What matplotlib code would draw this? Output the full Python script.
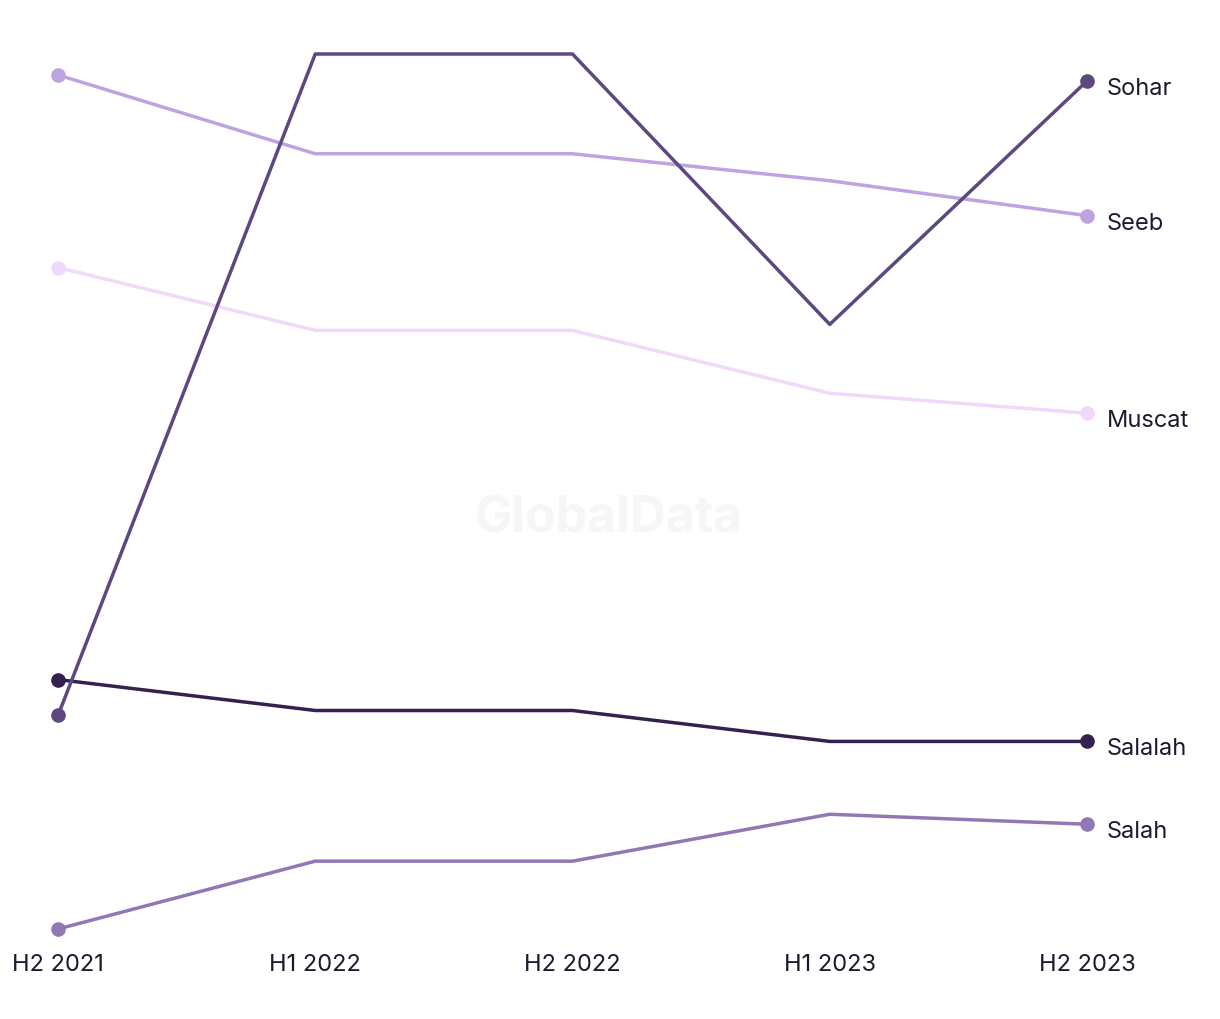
import matplotlib
matplotlib.use("Agg")
import matplotlib.pyplot as plt

periods = ["H2 2021", "H1 2022", "H2 2022", "H1 2023", "H2 2023"]

# values (relative scale, no axis shown)
sohar = [284, 947, 947, 676, 920]
seeb = [926, 847, 847, 820, 785]
muscat = [733, 670, 670, 607, 587]
salalah = [320, 289, 289, 258, 258]
salah = [70, 138, 138, 185, 175]

series = [
    ("Muscat", muscat, "#f0d9fa"),
    ("Seeb", seeb, "#bfa2e0"),
    ("Salah", salah, "#9278b2"),
    ("Salalah", salalah, "#34214f"),
    ("Sohar", sohar, "#5e4880"),
]

plt.rcParams["font.family"] = ["Inter", "DejaVu Sans"]

fig = plt.figure(figsize=(12.2, 10.2), dpi=100)
ax = fig.add_axes([58 / 1220, 90 / 1020, 1029 / 1220, 875 / 1020])

x = list(range(len(periods)))
for name, vals, col in series:
    ax.plot(x, vals, color=col, linewidth=2.5, clip_on=False, zorder=3)
    ax.plot([x[0], x[-1]], [vals[0], vals[-1]], "o", color=col,
            markersize=9.5, clip_on=False, zorder=4)
    ax.annotate(name, (x[-1], vals[-1]), xytext=(14, -5), textcoords="offset points",
                va="center", ha="left", fontsize=17, color="#1c1a2e")

ax.text(0.535, 0.47, "GlobalData", transform=ax.transAxes, ha="center", va="center",
        fontsize=36, fontweight="bold", color="#f6f6f6", zorder=0)

ax.set_xlim(0, 4)
ax.set_ylim(70, 947)
ax.set_xticks(x)
ax.set_xticklabels(periods, fontsize=17, color="#1c1a2e")
ax.tick_params(axis="x", length=0, pad=17)
ax.set_yticks([])
for s in ax.spines.values():
    s.set_visible(False)

fig.savefig("out.png", dpi=100, facecolor="white")
